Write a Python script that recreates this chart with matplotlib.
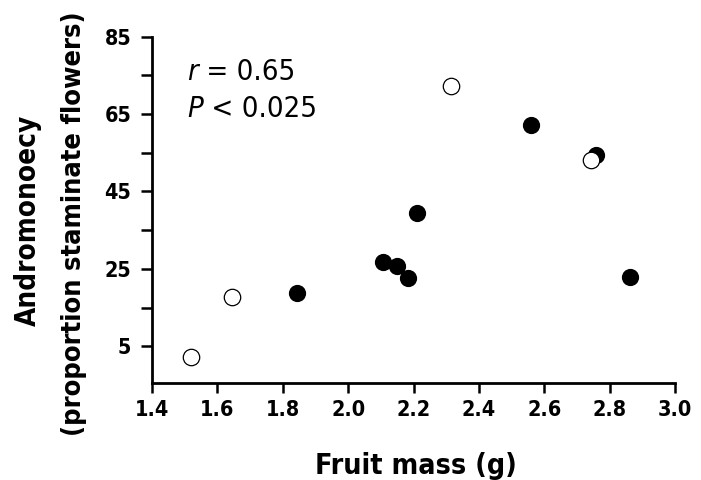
import matplotlib.pyplot as plt

# open circles
open_mass = [1.52, 1.645, 2.314, 2.743]
open_andro = [2.2, 17.7, 72.3, 53.1]
# filled circles
fill_mass = [1.843, 2.106, 2.149, 2.183, 2.211, 2.559, 2.758, 2.862]
fill_andro = [18.7, 26.7, 25.7, 22.6, 39.4, 62.2, 54.4, 22.8]

x_ticks = [1.4, 1.6, 1.8, 2.0, 2.2, 2.4, 2.6, 2.8, 3.0]
y_ticks = [5, 25, 45, 65, 85]
y_minor = [15, 35, 55, 75]

plt.rcParams['font.family'] = ['DejaVu Sans']
plt.rcParams['font.stretch'] = 'condensed'

fig = plt.figure(figsize=(7.01, 4.80), dpi=100)
ax = fig.add_axes([0.217, 0.202, 0.746, 0.7215])

ax.scatter(fill_mass, fill_andro, s=130, c='black', edgecolors='black', zorder=3)
ax.scatter(open_mass, open_andro, s=140, facecolors='white', edgecolors='black',
           linewidths=0.9, zorder=4)

ax.set_xlim(1.4, 3.0)
ax.set_ylim(-4.5, 85)
ax.set_xticks(x_ticks)
ax.set_xticklabels([f'{v:.1f}' for v in x_ticks])
ax.set_yticks(y_ticks)
ax.set_yticks(y_minor, minor=True)

for s in ['top', 'right']:
    ax.spines[s].set_visible(False)
for s in ['left', 'bottom']:
    ax.spines[s].set_linewidth(2)

ax.tick_params(which='both', direction='out', width=1.8)
ax.tick_params(axis='y', which='both', length=8, pad=7, labelsize=15.5)
ax.tick_params(axis='x', length=7, pad=5, labelsize=15.5)
for lab in ax.get_xticklabels() + ax.get_yticklabels():
    lab.set_fontweight('bold')

# axis titles placed by hand to follow the reference
fig.text(0.594, 0.0135, 'Fruit mass (g)', fontsize=20.5, fontweight='bold',
         ha='center', va='baseline')
fig.text(0.04, 0.54, 'Andromonoecy', fontsize=20, fontweight='bold',
         rotation=90, ha='center', va='center')
fig.text(0.106, 0.534, '(proportion staminate flowers)', fontsize=19.5,
         fontweight='bold', rotation=90, ha='center', va='center')

# stats, italic letter then plain rest
t1 = ax.text(0.067, 0.875, 'r', style='italic', transform=ax.transAxes,
             fontsize=21, va='baseline', ha='left')
ax.annotate(' = 0.65', xy=(1, 0), xycoords=t1, fontsize=21, va='bottom', ha='left')
t2 = ax.text(0.067, 0.768, 'P', style='italic', transform=ax.transAxes,
             fontsize=21, va='baseline', ha='left')
ax.annotate(' < 0.025', xy=(1, 0), xycoords=t2, fontsize=21, va='bottom', ha='left')

fig.savefig('out.png', dpi=100)
